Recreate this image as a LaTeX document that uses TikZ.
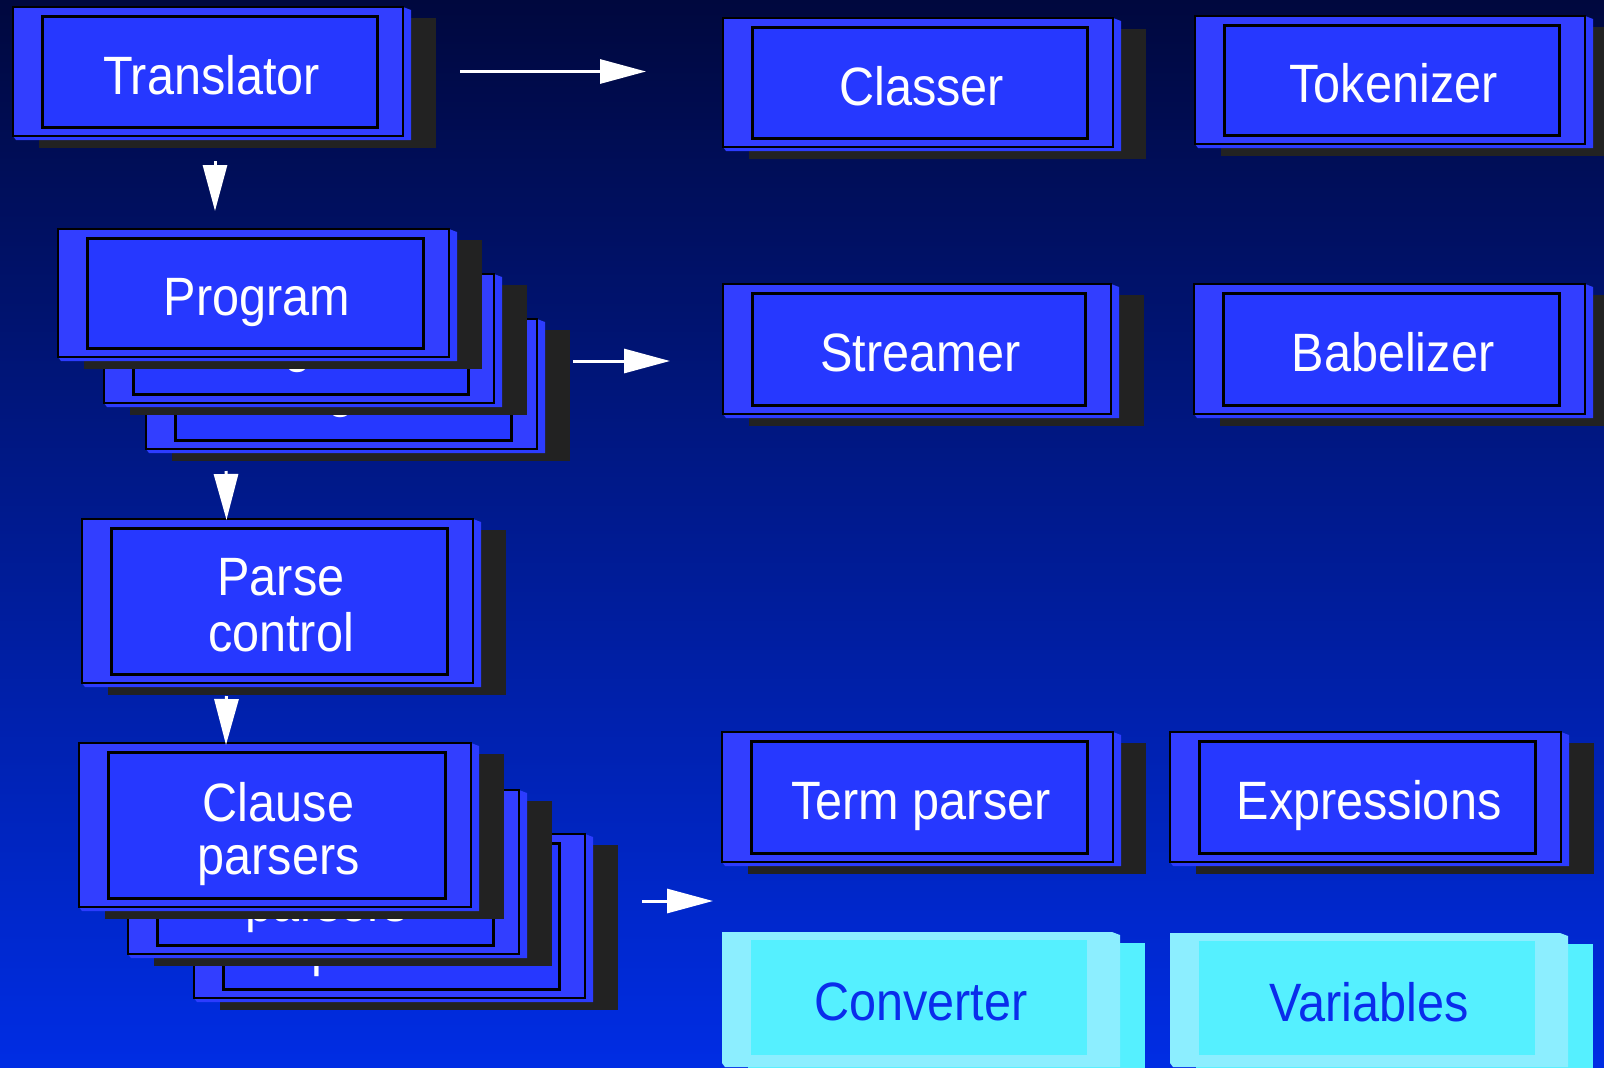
\documentclass[tikz,border=0pt]{standalone}
\usepackage{fontspec}
\newfontfamily\cardfont{Liberation Sans}[FakeStretch=0.9]
\usetikzlibrary{arrows.meta,calc}
\definecolor{bgtop}{RGB}{0,8,62}
\definecolor{bgmid}{RGB}{0,27,148}
\definecolor{bgbot}{RGB}{0,45,228}
\definecolor{cardout}{RGB}{50,62,255}
\definecolor{cardin}{RGB}{38,56,255}
\definecolor{cardbev}{RGB}{44,60,255}
\definecolor{cardshd}{RGB}{34,34,34}
\definecolor{cyout}{RGB}{140,238,255}
\definecolor{cyin}{RGB}{85,240,255}
\definecolor{cytext}{RGB}{10,45,235}
\tikzset{
  cardtext/.style={font=\cardfont\fontsize{54}{55}\selectfont, text=white, inner sep=0pt, align=center},
  twoline/.style={anchor=north, yshift=43pt, font=\cardfont\fontsize{54}{#1}\selectfont},
  oneline/.style={anchor=base, yshift=-22.5pt},
  outerbox/.style={draw=black, line width=2.5pt, fill=cardout, inner sep=0pt, outer sep=0pt, anchor=north west},
  cyanbox/.style={draw=none, fill=cyout, inner sep=0pt, outer sep=0pt, anchor=north west},
  innerbox/.style={draw=black, line width=3pt, fill=cardin},
  arr/.style={white, line width=3pt, -{Triangle[length=46pt,width=24pt]}},
}
% name, x0, y0, x1, y1, text, text placement
\newcommand{\bluecard}[7]{%
  \fill[cardshd] ({#2+26},{#3+11}) rectangle ({#4+33},{#5+12});
  \fill[cardbev] (#4,#3) -- ({#4+8},{#3+3}) -- ({#4+8},{#5+4}) -- ({#2+3},{#5+4}) -- (#2,#5) -- cycle;
  \node[outerbox, minimum width={#4pt-#2pt}, minimum height={#5pt-#3pt}] (#1) at (#2,#3) {};
  \filldraw[innerbox] ({#2+29},{#3+9}) rectangle ({#4-26},{#5-9});
  \node[cardtext, #7] (#1-t) at ({(#2+#4+3)/2+2},{(#3+#5)/2}) {#6};
}
\newcommand{\cyancard}[6]{%
  \fill[cyin] ({#2+26},{#3+11}) rectangle ({#4+33},{#5+12});
  \fill[cyout] (#4,#3) -- ({#4+8},{#3+3}) -- ({#4+8},{#5+4}) -- ({#2+3},{#5+4}) -- (#2,#5) -- cycle;
  \node[cyanbox, minimum width={#4pt-#2pt}, minimum height={#5pt-#3pt}] (#1) at (#2,#3) {};
  \fill[cyin] ({#2+29},{#3+8}) rectangle ({#4-25},{#5-8});
  \node[cardtext, text=cytext, anchor=base, yshift=-23pt] (#1-t) at ({(#2+#4+4)/2+2},{(#3+#5)/2}) {#6};
}
\begin{document}
\begin{tikzpicture}[x=1pt, y=-1pt]
\useasboundingbox (0,0) rectangle (1604,1068);
\clip (0,0) rectangle (1604,1068);
\shade[top color=bgtop, middle color=bgmid, bottom color=bgbot] (0,0) rectangle (1604,1068);

% left column
\bluecard{trans}{13}{7}{403}{136}{Translator}{oneline}
\bluecard{program3}{146}{319}{537}{449}{Program}{oneline}
\bluecard{program2}{104}{274}{494}{403}{Program}{oneline}
\bluecard{program}{58}{229}{449}{357}{Program}{oneline}
\bluecard{parse}{82}{519}{473}{683}{Parse\\control}{twoline=56}
\bluecard{clause3}{194}{834}{585}{998}{Clause\\parsers}{twoline=53}
\bluecard{clause2}{128}{790}{519}{954}{Clause\\parsers}{twoline=53}
\bluecard{clause}{79}{743}{471}{907}{Clause\\parsers}{twoline=53}

% right columns
\bluecard{classer}{723}{18}{1113}{147}{Classer}{oneline}
\bluecard{tokenizer}{1195}{16}{1585}{144}{Tokenizer}{oneline}
\bluecard{streamer}{723}{284}{1111}{414}{Streamer}{oneline}
\bluecard{babel}{1194}{284}{1585}{414}{Babelizer}{oneline}
\bluecard{term}{722}{732}{1113}{862}{Term parser}{oneline}
\bluecard{expr}{1170}{732}{1561}{862}{Expressions}{oneline}
\cyancard{conv}{722}{932}{1112}{1063}{Converter}
\cyancard{vars}{1170}{933}{1560}{1063}{Variables}

% connectors
\draw[arr] ($(trans.east)+(57,0)$) -- ($(trans.east -| classer.west)+(-77,0)$);
\draw[arr] ($(program3.east)+(36,-23)$) -- ($(streamer.west)+(-53,12)$);
\draw[arr] ($(clause3.east)+(57,-15)$) -- ($(conv.west)+(-9,-96.5)$);
\draw[arr] ($(trans.south)+(7,25)$) -- ($(program.north)+(-38.5,-18)$);
\draw[arr] ($(program3.south)+(-115.5,22)$) -- ($(parse.north)+(-51,1)$);
\draw[arr] ($(parse.south)+(-51,13)$) -- ($(clause.north)+(-49,2)$);
\end{tikzpicture}
\end{document}
